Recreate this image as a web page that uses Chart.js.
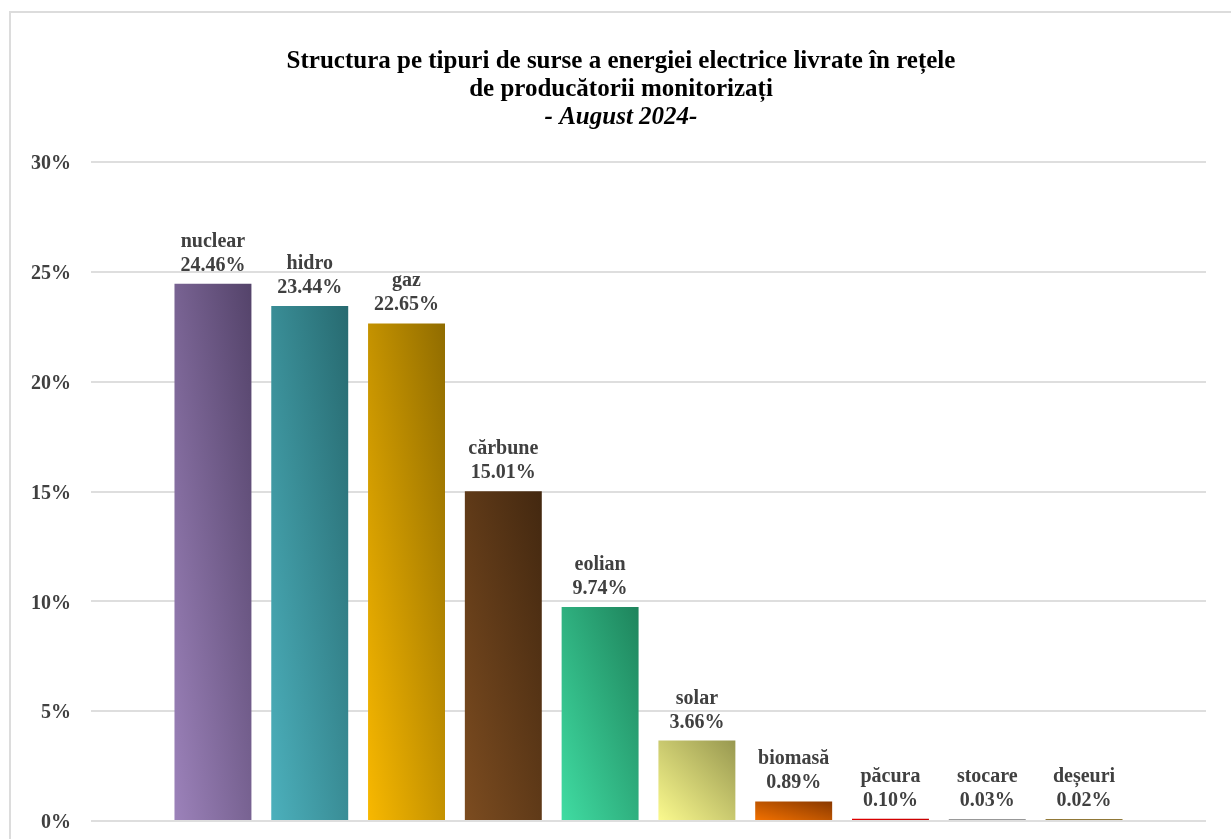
<!DOCTYPE html>
<html lang="ro">
<head>
    <meta charset="UTF-8">
    <title>Structura pe tipuri de surse - August 2024</title>
    <style>
        html, body { margin: 0; padding: 0; background: white; overflow: hidden; }
        #chart { display: block; }
    </style>
    <script src="https://cdn.jsdelivr.net/npm/chart.js@4/dist/chart.umd.min.js"></script>
</head>
<body>
    <canvas id="chart" width="1231" height="839"></canvas>
    <script>
        // date
        const categorii = ['nuclear', 'hidro', 'gaz', 'cărbune', 'eolian', 'solar', 'biomasă', 'păcura', 'stocare', 'deșeuri'];
        const valori = [24.46, 23.44, 22.65, 15.01, 9.74, 3.66, 0.89, 0.10, 0.03, 0.02];
        const etichete = ['24.46%', '23.44%', '22.65%', '15.01%', '9.74%', '3.66%', '0.89%', '0.10%', '0.03%', '0.02%'];
        const titlu = ['Structura pe tipuri de surse a energiei electrice livrate în rețele', 'de producătorii monitorizați', '- August 2024-'];

        // culori gradient (deschis jos-stanga, inchis sus-dreapta)
        const culoriDeschise = ['#9c82ba', '#4cb0bc', '#f8b800', '#7c4c20', '#40dca2', '#fbfa8e', '#f47200', '#f00000', '#a8a8a8', '#a89050'];
        const culoriInchise = ['#54436a', '#276a70', '#906c00', '#432810', '#1e845c', '#989850', '#883800', '#c00000', '#989898', '#907838'];

        const barPct = 0.795;
        const serif = '"Liberation Serif", "Times New Roman", serif';

        function gradient(ctx) {
            const chart = ctx.chart;
            const i = ctx.dataIndex;
            if (!chart.chartArea || i === undefined) return culoriDeschise[i] || '#999';
            const xs = chart.scales.x, ys = chart.scales.y;
            const cx = xs.getPixelForValue(i);
            const w = (xs.getPixelForValue(1) - xs.getPixelForValue(0)) * barPct;
            const top = ys.getPixelForValue(valori[i]);
            const base = ys.getPixelForValue(0);
            const h = Math.max(base - top, 1);
            const cy = (top + base) / 2;
            const L = Math.sqrt(w * w + h * h);
            const nx = h / L, ny = -w / L;
            const d = w * h / L;
            const g = chart.ctx.createLinearGradient(cx - d * nx, cy - d * ny, cx + d * nx, cy + d * ny);
            g.addColorStop(0, culoriDeschise[i]);
            g.addColorStop(1, culoriInchise[i]);
            return g;
        }

        const decor = {
            id: 'decor',
            beforeDraw(chart) {
                const c = chart.ctx;
                c.save();
                c.fillStyle = 'white';
                c.fillRect(0, 0, chart.width, chart.height);
                c.strokeStyle = '#dcdcdc';
                c.lineWidth = 2;
                c.strokeRect(10, 12, 1400, 1000);
                c.restore();
            },
            afterDraw(chart) {
                const c = chart.ctx;
                c.save();
                c.fillStyle = '#000';
                c.textAlign = 'center';
                c.textBaseline = 'middle';
                c.font = 'bold 25px ' + serif;
                c.fillText(titlu[0], 621, 62);
                c.fillText(titlu[1], 621, 90);
                c.font = 'italic bold 25px ' + serif;
                c.fillText(titlu[2], 621, 118);
                c.restore();
            },
            afterDatasetsDraw(chart) {
                const c = chart.ctx;
                const meta = chart.getDatasetMeta(0);
                c.save();
                c.fillStyle = '#404040';
                c.textAlign = 'center';
                c.textBaseline = 'alphabetic';
                c.font = 'bold 20px ' + serif;
                meta.data.forEach((el, i) => {
                    c.fillText(etichete[i], el.x, el.y - 13);
                    c.fillText(categorii[i], el.x, el.y - 37);
                });
                c.restore();
            }
        };

        window.onload = function () {
            const ctx = document.getElementById('chart').getContext('2d');
            new Chart(ctx, {
                type: 'bar',
                data: {
                    labels: categorii,
                    datasets: [{
                        label: 'Structura',
                        data: valori.map((v, i) => ({ x: i, y: v })),
                        backgroundColor: gradient,
                        borderWidth: 0,
                        minBarLength: 2,
                        barPercentage: barPct,
                        categoryPercentage: 1
                    }]
                },
                options: {
                    responsive: false,
                    animation: false,
                    layout: { padding: { top: 162, right: 25, bottom: 18, left: 0 } },
                    plugins: {
                        legend: { display: false },
                        tooltip: { enabled: false }
                    },
                    scales: {
                        x: {
                            type: 'linear',
                            display: false,
                            offset: false,
                            min: -1.26,
                            max: 10.26
                        },
                        y: {
                            min: 0,
                            max: 30,
                            afterFit(scale) { scale.width = 91; },
                            border: { display: false },
                            grid: { color: '#dedede', lineWidth: 2, drawTicks: true, tickLength: 20, tickColor: 'rgba(0,0,0,0)' },
                            ticks: {
                                stepSize: 5,
                                padding: 0,
                                labelOffset: 2,
                                color: '#404040',
                                font: { family: serif, size: 20, weight: 'bold' },
                                callback: v => v + '%'
                            }
                        }
                    }
                },
                plugins: [decor]
            });
        };
    </script>
</body>
</html>
